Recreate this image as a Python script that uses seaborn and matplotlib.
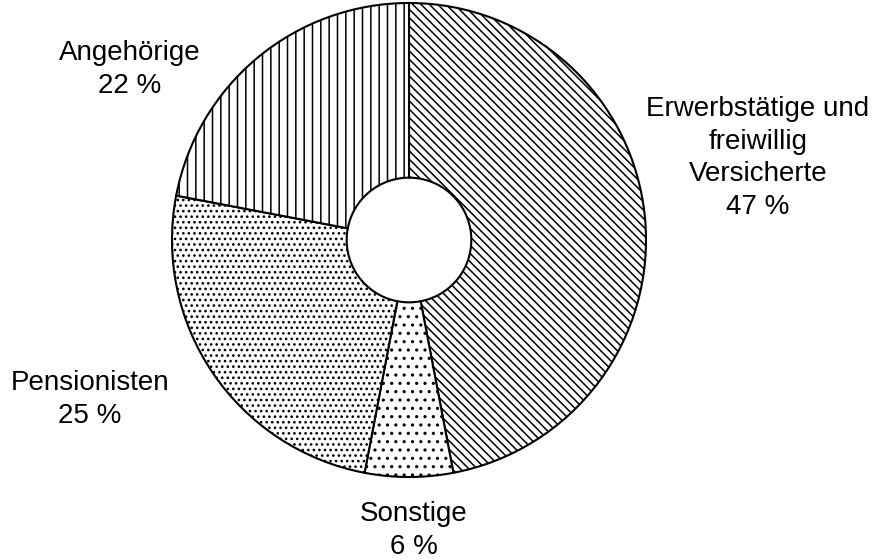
import matplotlib
matplotlib.use("Agg")
import matplotlib.pyplot as plt
import seaborn as sns

# Anteile der Versicherten
kategorien = ["Erwerbstätige und\nfreiwillig\nVersicherte", "Sonstige", "Pensionisten", "Angehörige"]
anteile = [47, 6, 25, 22]
muster = ["\\\\\\\\", "..", "...", "||"]

sns.set_theme(style="white")
plt.rcParams['font.family'] = ['Liberation Sans', 'DejaVu Sans']
plt.rcParams['hatch.linewidth'] = 1.1
plt.rcParams['hatch.color'] = 'black'

fig = plt.figure(figsize=(8.79, 5.6), dpi=100)
fig.patch.set_facecolor('white')
ax = fig.add_axes([172 / 879, 83 / 560, 474 / 879, 474 / 560])

wedges, _ = ax.pie(anteile, startangle=90, counterclock=False, radius=1,
                   colors=['white'] * 4,
                   wedgeprops=dict(width=0.737, edgecolor='black', linewidth=1.5))
for w, h in zip(wedges, muster):
    w.set_hatch(h)
ax.set_xlim(-1, 1)
ax.set_ylim(-1, 1)
ax.set_aspect('auto')
ax.axis('off')

# Beschriftungen: Mitte x, Grundlinie der letzten Zeile y (Pixel von oben)
positionen = [(758, 214), (414, 554), (90, 423), (130, 93)]
for name, wert, (px, py) in zip(kategorien, anteile, positionen):
    fig.text(px / 879, 1 - py / 560, f"{name}\n{wert} %", ha='center', va='baseline',
             fontsize=20, color='black', linespacing=1.33)

plt.savefig("out.png", dpi=100, facecolor='white')
